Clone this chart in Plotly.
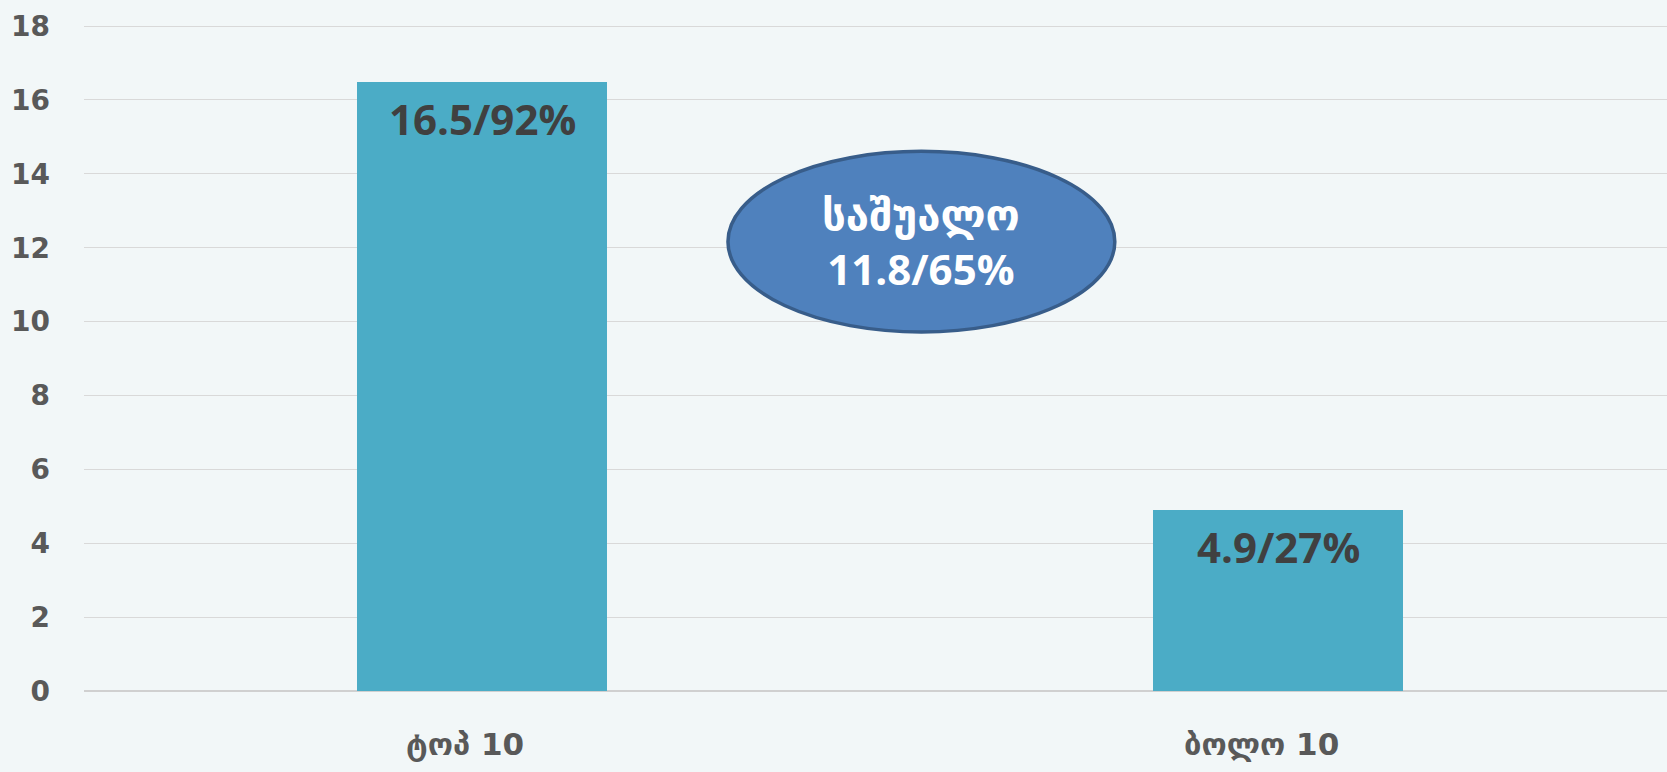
import plotly.graph_objects as go

categories = ["ტოპ 10", "ბოლო 10"]
values = [16.5, 4.9]
percents = [92, 27]
mean_value = 11.8
mean_percent = 65
mean_label = "საშუალო"
y_ticks = [0, 2, 4, 6, 8, 10, 12, 14, 16, 18]

BG = "#F2F7F8"
BAR = "#4BACC6"

fig = go.Figure()
fig.add_trace(go.Bar(
    x=[0, 1], y=values, width=0.314, marker=dict(color=BAR, line=dict(width=0)),
    hoverinfo="skip", showlegend=False,
))

for i, (v, p) in enumerate(zip(values, percents)):
    fig.add_annotation(
        x=i, y=v, xref="x", yref="y", text=f"<b>{v}/{p}%</b>", showarrow=False,
        yanchor="top", yshift=-6,
        font=dict(family="Open Sans, DejaVu Sans", size=42, color="#404040"),
    )

# category labels (slightly left of bar centre as in the reference)
for i, c in enumerate(categories):
    fig.add_annotation(
        x=i, y=0, xref="x", yref="y", text=f"<b>{c}</b>", showarrow=False,
        yanchor="top", yshift=-33, xshift=-17,
        font=dict(family="DejaVu Sans", size=31, color="#595959"),
    )

# mean ellipse
fig.add_shape(type="circle", xref="x", yref="y", x0=0.309, x1=0.795, y0=9.72, y1=14.61,
              fillcolor="#4F81BD", line=dict(color="#385D8A", width=3.5), layer="above")
fig.add_annotation(
    x=0.552, y=12.17, xref="x", yref="y", showarrow=False,
    text=f"<b>{mean_label}</b><br><b>{mean_value}/{mean_percent}%</b>",
    font=dict(family="Open Sans, DejaVu Sans", size=42, color="white"),
    align="center",
)

fig.update_layout(
    width=1667, height=772,
    paper_bgcolor=BG, plot_bgcolor=BG,
    margin=dict(l=84, r=0, t=25, b=81),
    bargap=0,
    xaxis=dict(
        range=[-0.5, 1.4887], tickmode="array", tickvals=[0, 1], showticklabels=False,
        showgrid=False, zeroline=False, showline=False, ticks="",
    ),
    yaxis=dict(
        range=[0, 18.03], tickmode="array", tickvals=y_ticks,
        showgrid=True, gridcolor="#D9D9D9", gridwidth=1,
        zeroline=True, zerolinecolor="#D0D0D0", zerolinewidth=2,
        showline=False, ticks="",
        tickfont=dict(family="DejaVu Sans", size=28, color="#595959", weight="bold"),
        ticklabelstandoff=33,
    ),
)

fig.write_html("out.html", config={"displayModeBar": False},
               post_script="document.body.style.margin='0';document.body.style.background='%s';" % BG)
